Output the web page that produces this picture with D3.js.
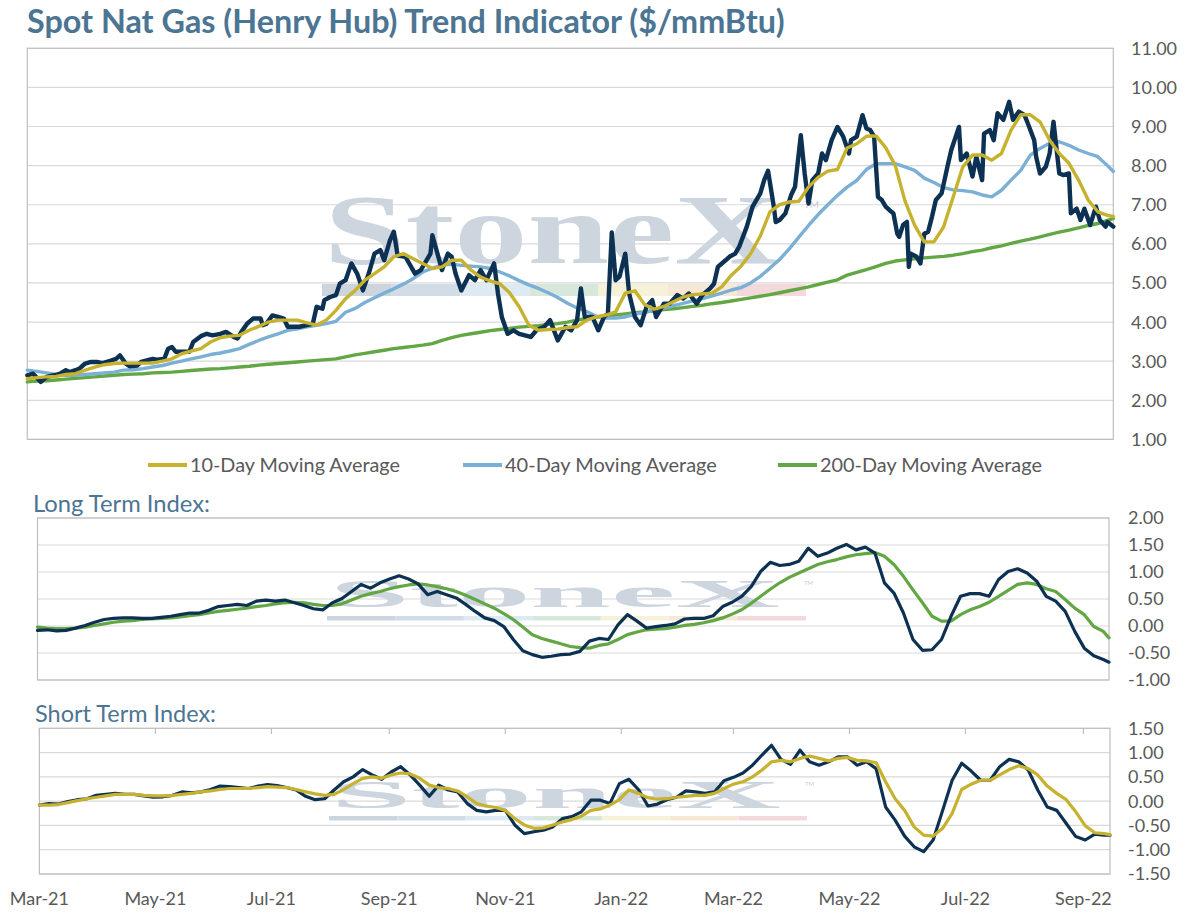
<!DOCTYPE html>
<html><head><meta charset="utf-8">
<script src="https://cdn.jsdelivr.net/npm/d3@7/dist/d3.min.js"></script>
<style>body{margin:0;background:#fff;} svg{display:block;font-family:Lato,"Open Sans",sans-serif;}</style>
</head><body>
<svg id="chart" width="1199" height="913"></svg>
<script>
// ---------- DATA ----------
const startDate = "2021-03-01";
const endDate = "2022-09-15";
const stepDays = 5;

// spot price: day offset from startDate and value ($/mmBtu)
const priceDays = [0,3,7,10,14,17,20,22,25,27,
30,33,36,39,43,46,48,51,53,57,
59,62,65,67,71,73,75,77,81,84,
86,90,93,96,100,103,107,109,111,114,
117,121,122,124,127,130,133,135,138,141,
145,148,150,153,154,157,160,162,165,168,
171,174,177,180,183,185,188,190,192,196,
201,204,209,210,215,218,220,222,225,229,
232,235,238,242,244,246,249,252,255,261,
264,268,271,273,275,279,282,285,287,289,
293,296,299,301,303,305,307,310,312,315,
318,321,324,326,330,333,337,340,343,347,
350,354,356,358,362,364,367,369,373,376,
380,382,384,387,388,390,393,396,398,401,
403,405,407,410,412,414,417,420,423,426,
427,430,433,435,437,439,441,443,445,447,
449,451,452,454,456,457,458,461,463,465,
467,469,471,474,477,479,483,484,487,490,
492,495,496,499,501,503,506,509,511,514,
517,519,522,523,525,528,530,532,535,537,
540,541,544,546,548,551,554,556,559,560,563];
const spotPrice = [2.64,2.68,2.47,2.60,2.64,2.68,2.77,2.72,2.77,2.81,
2.94,2.98,2.98,2.95,3.01,3.06,3.15,2.94,2.87,2.89,
2.98,3.02,3.06,3.04,3.06,3.32,3.36,3.24,3.24,3.24,
3.49,3.64,3.70,3.66,3.70,3.75,3.62,3.58,3.75,3.96,
4.09,4.09,3.92,3.96,4.17,4.13,4.09,3.88,3.88,3.88,
3.92,3.96,4.39,4.34,4.56,4.64,4.69,4.98,5.07,5.50,
5.24,4.81,5.24,5.75,5.84,5.58,6.09,6.31,5.70,5.67,
5.24,5.33,5.75,6.22,5.33,5.75,5.67,5.24,4.81,5.20,
5.07,5.33,5.07,5.50,4.73,4.13,3.70,3.79,3.70,3.62,
3.79,3.88,4.05,3.79,3.53,3.88,3.79,4.05,4.86,4.13,
4.13,3.79,4.13,4.22,6.29,5.07,5.16,5.75,4.73,4.13,
3.92,4.39,4.56,4.13,4.47,4.47,4.69,4.60,4.73,4.47,
4.69,4.86,4.98,5.41,5.58,5.67,5.75,5.92,6.44,6.95,
7.29,7.63,7.87,6.95,6.56,6.61,6.78,7.25,7.46,8.78,
7.80,7.03,7.63,7.80,8.31,8.14,8.65,8.99,8.74,8.31,
8.65,8.74,9.29,8.95,8.91,8.74,7.20,7.12,6.95,6.86,
6.78,6.26,6.18,6.48,6.56,5.41,5.75,5.67,5.50,6.26,
6.31,6.69,7.12,7.29,7.97,8.40,8.99,8.14,8.31,7.72,
8.23,7.63,8.82,8.91,8.65,9.34,9.17,9.63,9.17,9.38,
9.29,9.04,8.65,8.23,7.80,7.97,8.31,9.12,7.80,7.76,
7.80,6.78,6.90,6.61,6.90,6.48,6.95,6.61,6.44,6.56,6.44];

// moving averages / indices sampled every stepDays (last point = endDate)
const ma10 = [2.55,2.58,2.60,2.61,2.66,2.68,2.77,2.85,2.91,2.94,
2.95,2.95,2.95,2.95,3.00,3.06,3.19,3.26,3.32,3.49,
3.60,3.64,3.66,3.79,3.89,4.00,4.05,4.05,4.05,3.98,
3.92,4.05,4.30,4.60,4.81,5.07,5.24,5.41,5.67,5.75,
5.62,5.50,5.37,5.41,5.58,5.58,5.33,5.15,5.05,4.98,
4.75,4.39,3.92,3.79,3.81,3.82,3.86,3.88,4.05,4.13,
4.18,4.26,4.74,4.80,4.45,4.33,4.40,4.52,4.64,4.70,
4.72,4.74,4.90,5.20,5.43,5.75,6.20,6.82,7.00,7.07,
7.09,7.45,7.70,7.86,7.90,8.45,8.56,8.75,8.76,8.46,
8.00,7.10,6.48,6.05,6.05,6.43,7.20,7.97,8.27,8.27,
8.14,8.31,8.91,9.30,9.30,9.12,8.65,8.31,8.06,7.63,
7.12,6.82,6.73,6.70];

const ma40 = [2.77,2.74,2.70,2.66,2.64,2.64,2.66,2.68,2.70,2.72,
2.77,2.78,2.81,2.85,2.89,2.95,3.00,3.06,3.11,3.17,
3.21,3.26,3.32,3.43,3.53,3.62,3.70,3.79,3.83,3.88,
3.92,3.96,4.02,4.25,4.35,4.50,4.62,4.74,4.85,4.97,
5.11,5.28,5.38,5.46,5.48,5.45,5.43,5.41,5.37,5.28,
5.18,5.06,4.95,4.86,4.75,4.63,4.48,4.36,4.27,4.15,
4.10,4.10,4.13,4.20,4.25,4.30,4.36,4.42,4.48,4.54,
4.60,4.67,4.74,4.82,4.88,5.00,5.17,5.38,5.60,5.87,
6.17,6.47,6.75,7.00,7.24,7.45,7.62,7.90,8.05,8.05,
8.05,7.97,7.88,7.68,7.57,7.44,7.38,7.36,7.33,7.25,
7.20,7.37,7.63,7.88,8.27,8.44,8.57,8.61,8.52,8.40,
8.31,8.23,8.00,7.85];

const ma200 = [2.47,2.49,2.50,2.52,2.54,2.56,2.58,2.60,2.62,2.64,
2.66,2.67,2.68,2.70,2.71,2.72,2.74,2.76,2.78,2.80,
2.81,2.83,2.85,2.87,2.90,2.92,2.94,2.96,2.98,3.00,
3.02,3.04,3.06,3.11,3.16,3.20,3.24,3.28,3.32,3.35,
3.38,3.41,3.45,3.53,3.60,3.66,3.70,3.74,3.78,3.81,
3.84,3.87,3.89,3.91,3.94,3.96,4.00,4.05,4.09,4.12,
4.15,4.18,4.21,4.24,4.26,4.29,4.32,4.34,4.37,4.40,
4.43,4.47,4.50,4.54,4.58,4.62,4.66,4.70,4.75,4.80,
4.85,4.90,4.96,5.02,5.08,5.20,5.27,5.34,5.42,5.50,
5.56,5.59,5.62,5.64,5.66,5.68,5.71,5.75,5.80,5.84,
5.90,5.95,6.01,6.07,6.12,6.18,6.24,6.30,6.35,6.41,
6.47,6.52,6.60,6.65];

const longIndex = [-0.08,-0.07,-0.09,-0.08,-0.04,0.01,0.07,0.12,0.14,0.15,
0.15,0.14,0.14,0.16,0.18,0.21,0.24,0.24,0.29,0.36,
0.38,0.40,0.38,0.46,0.48,0.46,0.48,0.43,0.38,0.32,
0.30,0.43,0.51,0.64,0.77,0.70,0.80,0.87,0.93,0.87,
0.78,0.58,0.64,0.58,0.52,0.40,0.27,0.15,0.10,-0.01,
-0.25,-0.46,-0.53,-0.58,-0.56,-0.53,-0.52,-0.47,-0.28,-0.23,
-0.25,0.02,0.21,0.09,-0.04,-0.01,0.01,0.04,0.13,0.14,
0.14,0.19,0.36,0.44,0.55,0.73,1.01,1.18,1.12,1.14,
1.20,1.44,1.29,1.35,1.44,1.51,1.41,1.46,1.35,0.80,
0.61,0.24,-0.25,-0.45,-0.44,-0.25,0.18,0.55,0.60,0.60,
0.55,0.86,1.01,1.06,0.98,0.83,0.55,0.46,0.27,-0.10,
-0.41,-0.55,-0.62,-0.67];

const longSignal = [-0.02,-0.04,-0.05,-0.05,-0.04,-0.02,0.01,0.04,0.07,0.09,
0.10,0.12,0.13,0.14,0.15,0.17,0.19,0.21,0.24,0.27,
0.29,0.31,0.33,0.36,0.38,0.41,0.43,0.44,0.43,0.40,
0.38,0.38,0.41,0.48,0.55,0.60,0.64,0.69,0.73,0.76,
0.78,0.76,0.73,0.69,0.64,0.57,0.49,0.41,0.33,0.23,
0.12,-0.02,-0.16,-0.23,-0.28,-0.33,-0.38,-0.40,-0.41,-0.36,
-0.33,-0.25,-0.16,-0.11,-0.07,-0.06,-0.05,-0.02,0.01,0.03,
0.06,0.10,0.15,0.22,0.30,0.42,0.55,0.68,0.80,0.90,
0.98,1.06,1.14,1.19,1.23,1.28,1.32,1.34,1.36,1.29,
1.14,0.92,0.67,0.43,0.18,0.09,0.09,0.21,0.30,0.36,
0.44,0.55,0.66,0.77,0.80,0.77,0.69,0.64,0.49,0.33,
0.21,-0.01,-0.10,-0.22];

const shortIndex = [-0.08,-0.05,-0.06,-0.01,0.03,0.05,0.12,0.14,0.16,0.14,
0.14,0.11,0.08,0.09,0.12,0.19,0.17,0.19,0.24,0.31,
0.30,0.28,0.26,0.31,0.34,0.32,0.28,0.23,0.10,0.03,
0.05,0.23,0.40,0.50,0.65,0.54,0.45,0.60,0.71,0.54,
0.33,0.10,0.33,0.23,0.19,-0.05,-0.19,-0.22,-0.19,-0.19,
-0.49,-0.67,-0.63,-0.60,-0.53,-0.36,-0.32,-0.22,0.02,0.02,
-0.05,0.36,0.45,0.24,-0.10,-0.06,0.03,0.08,0.21,0.19,
0.16,0.19,0.42,0.49,0.58,0.74,0.95,1.15,0.86,0.76,
1.05,0.81,0.74,0.81,0.91,0.91,0.74,0.81,0.67,-0.12,
-0.39,-0.72,-0.94,-1.04,-0.80,-0.19,0.43,0.78,0.62,0.43,
0.43,0.71,0.86,0.81,0.64,0.23,-0.12,-0.19,-0.46,-0.73,
-0.80,-0.68,-0.70,-0.70];

const shortSignal = [-0.08,-0.08,-0.07,-0.03,0.01,0.05,0.08,0.11,0.14,0.14,
0.14,0.12,0.11,0.11,0.12,0.14,0.16,0.19,0.21,0.24,
0.26,0.26,0.26,0.28,0.30,0.29,0.28,0.24,0.19,0.15,
0.12,0.14,0.24,0.36,0.47,0.50,0.47,0.54,0.58,0.56,
0.47,0.33,0.28,0.26,0.21,0.09,-0.05,-0.10,-0.13,-0.19,
-0.36,-0.49,-0.56,-0.55,-0.49,-0.43,-0.38,-0.31,-0.19,-0.16,
-0.08,0.03,0.23,0.16,0.07,0.04,0.05,0.08,0.10,0.12,
0.12,0.16,0.26,0.35,0.40,0.50,0.64,0.81,0.84,0.81,
0.88,0.93,0.88,0.83,0.88,0.90,0.84,0.83,0.79,0.40,
0.05,-0.19,-0.53,-0.70,-0.72,-0.56,-0.25,0.24,0.35,0.43,
0.43,0.54,0.65,0.73,0.67,0.54,0.31,0.16,0.03,-0.22,
-0.51,-0.65,-0.67,-0.69];

const priceTicks = [1,2,3,4,5,6,7,8,9,10,11];
const longTicks = [-1,-0.5,0,0.5,1,1.5,2];
const shortTicks = [-1.5,-1,-0.5,0,0.5,1,1.5];
const legendLabels = ["10-Day Moving Average","40-Day Moving Average","200-Day Moving Average"];
const titleText = "Spot Nat Gas (Henry Hub) Trend Indicator ($/mmBtu)";
const longTitle = "Long Term Index:";
const shortTitle = "Short Term Index:";

// ---------- SETUP ----------
const parse = d3.utcParse("%Y-%m-%d");
const d0 = parse(startDate), d1 = parse(endDate);
const dates = d3.utcDay.range(d0, d3.utcDay.offset(d1, -2), stepDays);
dates.push(d1);
const priceDates = priceDays.map(d => d3.utcDay.offset(d0, d));

const C = {navy:"#0c3152", gold:"#c6b22f", blue:"#7aafd6", green:"#63a744",
  grid:"#d9d9d9", border:"#bfbfbf", text:"#595959", title:"#4c7593"};

const svg = d3.select("#chart");
svg.append("rect").attr("width",1199).attr("height",913).attr("fill","#fff");

function fitText(sel, w){
  const n = sel.node(); const L = n.getComputedTextLength();
  const fs = parseFloat(sel.attr("font-size"));
  sel.attr("font-size", (fs*w/L).toFixed(2));
}

function watermark(g, x0, x1, top, base, barY, barH){
  const capH = base - top;
  const fs = capH/0.66;
  g.append("text").attr("x",x0).attr("y",base)
   .attr("font-family","'Liberation Serif','DejaVu Serif',serif").attr("font-weight",700)
   .attr("font-size",fs).attr("fill","#cdd5df")
   .attr("textLength",x1-x0-14).attr("lengthAdjust","spacingAndGlyphs")
   .text("StoneX");
  g.append("text").attr("x",x1+10).attr("y",top+capH*0.17)
   .attr("font-size",Math.max(6,capH*0.15)).attr("fill","#c4ccd6")
   .attr("font-family","Lato,sans-serif").text("TM");
  const cols = ["#c6d0da","#ccd8e3","#d9e7f2","#d3e6d6","#f4f1d3","#f6e5d2","#f2d5d7"];
  const bx = d3.scaleLinear().domain([0,cols.length]).range([x0-2, x1+12]);
  g.selectAll("rect.wm").data(cols).join("rect").attr("class","wm")
   .attr("x",(d,i)=>bx(i)).attr("width",(d,i)=>bx(i+1)-bx(i))
   .attr("y",barY).attr("height",barH).attr("fill",d=>d).attr("opacity",0.9);
}

function panel(cfg){
  const x = d3.scaleUtc().domain([d0,d1]).range([cfg.x0,cfg.x1]);
  const y = d3.scaleLinear().domain(cfg.domain).range([cfg.y1,cfg.y0]);
  const g = svg.append("g");
  g.selectAll("line.grid").data(cfg.ticks).join("line").attr("class","grid")
   .attr("x1",cfg.x0).attr("x2",cfg.x1).attr("y1",d=>y(d)).attr("y2",d=>y(d))
   .attr("stroke",C.grid).attr("stroke-width",1.2);
  watermark(g.append("g"), cfg.wm[0], cfg.wm[1], cfg.wm[2], cfg.wm[3], cfg.wm[4], cfg.wm[5]);
  g.append("rect").attr("x",cfg.x0).attr("y",cfg.y0).attr("width",cfg.x1-cfg.x0)
   .attr("height",cfg.y1-cfg.y0).attr("fill","none").attr("stroke",C.border).attr("stroke-width",1.2);
  g.selectAll("text.yl").data(cfg.ticks).join("text").attr("class","yl")
   .attr("x",cfg.lx).attr("y",d=>y(d)).attr("dy","0.36em")
   .attr("font-size",18).attr("fill",C.text).text(d=>d3.format(".2f")(d).replace("−","-"));
  cfg.series.forEach(s=>{
    const xs = s.dates || dates;
    const line = d3.line().x((d,i)=>x(xs[i])).y(d=>y(d));
    g.append("path").datum(s.data).attr("d",line).attr("fill","none")
     .attr("stroke",s.color).attr("stroke-width",s.w)
     .attr("stroke-linejoin","round").attr("stroke-linecap","round");
  });
  return {x,y,g};
}

// title
const t = svg.append("text").attr("x",27).attr("y",33).attr("font-size",25)
  .attr("font-weight",700).attr("fill",C.title).text(titleText);
fitText(t, 758);

// top panel
panel({x0:27.3,x1:1113.3,y0:48.3,y1:439.4,domain:[1,11],ticks:priceTicks,lx:1131,
  wm:[324,794,197,263,284,12],
  series:[{data:ma200,color:C.green,w:3.4},{data:ma40,color:C.blue,w:3.4},
          {data:spotPrice,dates:priceDates,color:C.navy,w:4.4},{data:ma10,color:C.gold,w:3.4}]});

// legend
const legColors = [C.gold,C.blue,C.green];
const legX = [148,463,778];
const legW = [210,212,222];
legendLabels.forEach((lab,i)=>{
  svg.append("line").attr("x1",legX[i]).attr("x2",legX[i]+39).attr("y1",465).attr("y2",465)
   .attr("stroke",legColors[i]).attr("stroke-width",4);
  const tx = svg.append("text").attr("x",legX[i]+42).attr("y",465).attr("dy","0.36em")
   .attr("font-size",17).attr("fill",C.text).text(lab);
  fitText(tx, legW[i]);
});

// middle
const lt = svg.append("text").attr("x",33).attr("y",512).attr("font-size",20)
  .attr("fill",C.title).text(longTitle);
fitText(lt, 177);
panel({x0:37.5,x1:1109,y0:518,y1:680,domain:[-1,2],ticks:longTicks,lx:1128,
  wm:[329,794,580,607,616,4.5],
  series:[{data:longSignal,color:C.green,w:3.2},{data:longIndex,color:C.navy,w:3.2}]});

// bottom
const st = svg.append("text").attr("x",35).attr("y",722).attr("font-size",20)
  .attr("fill",C.title).text(shortTitle);
fitText(st, 181);
const pb = panel({x0:39.4,x1:1110,y0:728.3,y1:874,domain:[-1.5,1.5],ticks:shortTicks,lx:1128,
  wm:[331,795,782,808,816,4.5],
  series:[{data:shortIndex,color:C.navy,w:3.2},{data:shortSignal,color:C.gold,w:3.2}]});

// x axis (ticks at top border of lower panel, labels below it)
const xt = d3.utcMonth.every(2).range(d0, d1);
svg.selectAll("line.xt").data(xt).join("line").attr("class","xt")
  .attr("x1",d=>pb.x(d)).attr("x2",d=>pb.x(d)).attr("y1",728.3).attr("y2",734)
  .attr("stroke",C.border).attr("stroke-width",1.2);
svg.selectAll("text.xl").data(xt).join("text").attr("class","xl")
  .attr("x",d=>pb.x(d)).attr("y",899).attr("dy","0.36em").attr("text-anchor","middle")
  .attr("font-size",18).attr("fill",C.text).text(d=>d3.utcFormat("%b-%y")(d));
</script>
</body></html>
